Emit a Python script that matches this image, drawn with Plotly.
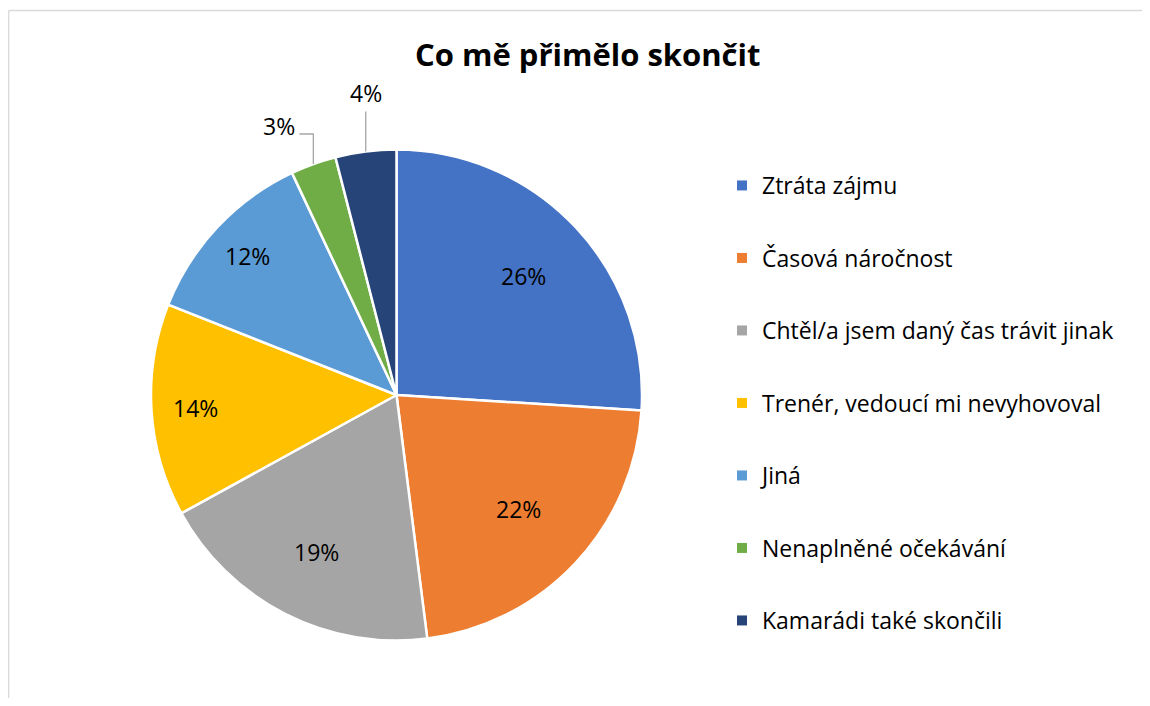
import math
import plotly.graph_objects as go

# page size and the browser's default 8px body margin
PAGE_W, PAGE_H = 1150, 706
OFF = 8
W, H = PAGE_W - 2 * OFF, PAGE_H - 2 * OFF

title = "Co mě přimělo skončit"
categories = [
    "Ztráta zájmu",
    "Časová náročnost",
    "Chtěl/a jsem daný čas trávit jinak",
    "Trenér, vedoucí mi nevyhovoval",
    "Jiná",
    "Nenaplněné očekávání",
    "Kamarádi také skončili",
]
values = [26, 22, 19, 14, 12, 3, 4]
colors = ["#4472C4", "#ED7D31", "#A5A5A5", "#FFC000", "#5B9BD5", "#70AD47", "#264478"]
outside = [False, False, False, False, False, True, True]
# radial position of inside labels, as a fraction of the radius (styling)
label_r = [0.71, 0.68, 0.72, 0.82, 0.83, None, None]

FONT = "Open Sans"
LABEL_SIZE = 23

# pie geometry in page pixels
cx, cy, r = 396.5, 395.0, 245.5


def px(x):
    return (x - OFF) / W


def py(y):
    return 1 - (y - OFF) / H


labels_text = [f"{v}%" for v in values]

fig = go.Figure()
fig.add_trace(go.Pie(
    labels=categories,
    values=values,
    sort=False,
    direction="clockwise",
    rotation=0,
    marker=dict(colors=colors, line=dict(color="white", width=2.5)),
    textinfo="none",
    domain=dict(x=[px(cx - r), px(cx + r)], y=[py(cy + r), py(cy - r)]),
    showlegend=False,
    hoverinfo="label+percent",
))

# legend via dummy traces to get wide spacing between entries
for i, (cat, col) in enumerate(zip(categories, colors)):
    fig.add_trace(go.Scatter(
        x=[None], y=[None], mode="markers", name=cat,
        marker=dict(symbol="square", size=10, color=col),
        legendgroup=f"g{i}", showlegend=True,
    ))

total = sum(values)
cum = 0
shapes = []
annotations = []
lab_font = dict(family=FONT, size=LABEL_SIZE, color="black")
for i, v in enumerate(values):
    mid = (cum + v / 2) / total * 2 * math.pi
    cum += v
    if not outside[i]:
        lx = cx + label_r[i] * r * math.sin(mid)
        ly = cy - label_r[i] * r * math.cos(mid)
        annotations.append(dict(x=px(lx), y=py(ly), xref="paper", yref="paper",
                                text=labels_text[i], showarrow=False,
                                xanchor="center", yanchor="middle", font=lab_font))
        continue
    ex = cx + r * math.sin(mid)
    ey = cy - r * math.cos(mid)
    if mid > 2 * math.pi * 0.96:
        # near the top: straight vertical leader
        top = ey - 40
        path = f"M {px(ex)},{py(ey)} L {px(ex)},{py(top)}"
        annotations.append(dict(x=px(ex), y=py(top - 18), xref="paper", yref="paper",
                                text=labels_text[i], showarrow=False,
                                xanchor="center", yanchor="middle", font=lab_font))
    else:
        top = ey - 30
        left = ex - 14
        path = f"M {px(ex)},{py(ey)} L {px(ex)},{py(top)} L {px(left)},{py(top)}"
        annotations.append(dict(x=px(left - 2), y=py(top - 8), xref="paper", yref="paper",
                                text=labels_text[i], showarrow=False,
                                xanchor="right", yanchor="middle", font=lab_font))
    shapes.append(dict(type="path", path=path, xref="paper", yref="paper",
                       line=dict(color="#A6A6A6", width=1.3)))

# chart-area border: only its left and top edges fall inside the picture
bx, by = px(8.7), py(10.5)
border = dict(color="#D9D9D9", width=1.3)
shapes.append(dict(type="line", xref="paper", yref="paper", x0=bx, x1=bx, y0=by, y1=-0.02,
                   line=border, layer="below"))
shapes.append(dict(type="line", xref="paper", yref="paper", x0=bx, x1=1.02, y0=by, y1=by,
                   line=border, layer="below"))

annotations.append(dict(x=px(587), y=py(54), xref="paper", yref="paper",
                        text=f"<b>{title}</b>", showarrow=False,
                        xanchor="center", yanchor="middle",
                        font=dict(family=FONT, size=31, color="black")))

fig.update_layout(
    width=W, height=H,
    margin=dict(l=0, r=0, t=0, b=0),
    paper_bgcolor="white",
    plot_bgcolor="white",
    xaxis=dict(visible=False),
    yaxis=dict(visible=False),
    shapes=shapes,
    annotations=annotations,
    legend=dict(
        x=px(722), y=py(164), xanchor="left", yanchor="top",
        font=dict(family=FONT, size=23, color="black"),
        traceorder="grouped", tracegroupgap=39.6,
        bgcolor="rgba(0,0,0,0)",
        itemclick=False, itemdoubleclick=False,
    ),
    hovermode=False,
)

fig.write_html("out.html")
